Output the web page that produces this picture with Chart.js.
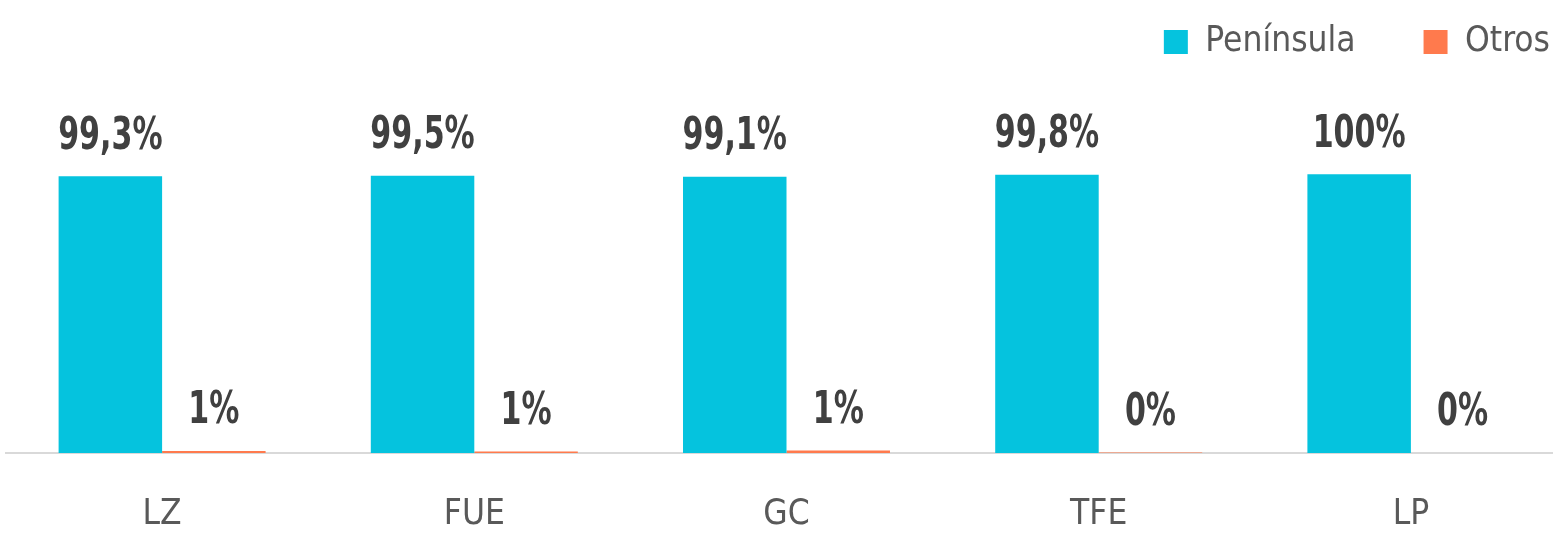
<!DOCTYPE html>
<html>
<head>
<meta charset="utf-8">
<script src="https://cdn.jsdelivr.net/npm/chart.js@4"></script>
<style>
    html, body { margin: 0; padding: 0; background: #fff; overflow: hidden; }
    #wrap { width: 1567px; height: 536px; }
</style>
</head>
<body>
<div id="wrap"><canvas id="chart" width="1567" height="536"></canvas></div>
<script>
// data
const islands = ['LZ', 'FUE', 'GC', 'TFE', 'LP'];
const peninsula = [99.3, 99.5, 99.1, 99.8, 100];
const otros = [0.7, 0.5, 0.9, 0.2, 0];
const seriesNames = ['Península', 'Otros'];

const FONT = "'DejaVu Sans Condensed', 'Liberation Sans Narrow', sans-serif";

function formatPct(v, decimals) {
    let s = v.toFixed(decimals).replace('.', ',');
    if (s.endsWith(',0')) s = s.slice(0, -2);
    return s + '%';
}

// value labels above each bar (squeezed a bit to look like a narrow face)
const barLabels = {
    id: 'barLabels',
    afterDatasetsDraw(chart) {
        const ctx = chart.ctx;
        chart.data.datasets.forEach((ds, i) => {
            const meta = chart.getDatasetMeta(i);
            meta.data.forEach((bar, j) => {
                ctx.save();
                ctx.font = 'bold 44px ' + FONT;
                ctx.fillStyle = '#404040';
                ctx.textAlign = 'center';
                ctx.textBaseline = 'middle';
                ctx.translate(bar.x, bar.y - 39);
                ctx.scale(0.76, 1);
                ctx.fillText(formatPct(ds.data[j], ds.labelDecimals), 0, 0);
                ctx.restore();
            });
        });
    }
};

// nudge the legend up into the corner like the original
const legendPlace = {
    id: 'legendPlace',
    afterUpdate(chart) {
        const lg = chart.legend;
        const pad = lg.options.labels.padding;
        const itemH = lg.options.labels.font.size;
        lg.top = 42 - pad - itemH / 2;
        const dx = 1550 - (lg.right - pad);
        lg.left += dx;
        lg.right += dx;
    }
};

new Chart(document.getElementById('chart'), {
    type: 'bar',
    data: {
        labels: islands,
        datasets: [
            { label: seriesNames[0], data: peninsula, backgroundColor: '#05C3DE', labelDecimals: 1 },
            { label: seriesNames[1], data: otros, backgroundColor: '#FF7A4D', labelDecimals: 0 }
        ]
    },
    options: {
        responsive: false,
        animation: false,
        layout: { padding: { left: 6, right: 0, top: 0, bottom: 0 } },
        datasets: { bar: { categoryPercentage: 0.663, barPercentage: 1 } },
        plugins: {
            legend: {
                position: 'top',
                align: 'end',
                labels: {
                    boxWidth: 24,
                    boxHeight: 24,
                    padding: 68,
                    color: '#595959',
                    font: { family: FONT, size: 35 }
                }
            },
            tooltip: { enabled: false }
        },
        scales: {
            x: {
                grid: { display: false },
                border: { display: true, color: '#D9D9D9', width: 2 },
                ticks: { color: '#595959', padding: 33, font: { family: FONT, size: 35 } },
                afterFit(scale) { scale.height = 83; }
            },
            y: {
                display: false,
                min: 0,
                max: 122
            }
        }
    },
    plugins: [barLabels, legendPlace]
});
</script>
</body>
</html>
